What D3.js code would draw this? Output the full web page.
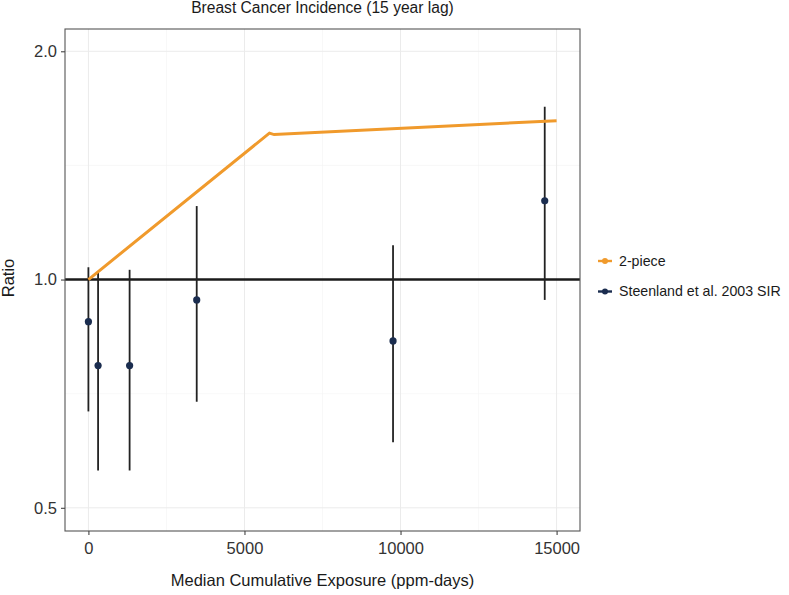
<!DOCTYPE html>
<html lang="en">
  <head>
    <meta charset="UTF-8" />
    <title>Breast Cancer Incidence</title>
    <script src="https://d3js.org/d3.v7.min.js"></script>
    <style>
      body { margin: 0; background: #fff; }
      text { font-family: "Liberation Sans", Arial, sans-serif; }
    </style>
  </head>
  <body>
    <script>
      // data
      var exposure = [0, 310, 1320, 3470, 9760, 14620];
      var sir = [0.88, 0.77, 0.77, 0.94, 0.83, 1.27];
      var sirLow = [0.67, 0.56, 0.56, 0.69, 0.61, 0.94];
      var sirHigh = [1.038, 1.02, 1.03, 1.25, 1.11, 1.69];

      var pieceX = [0, 5800, 5950, 15000];
      var pieceY = [1.0, 1.56, 1.553, 1.62];

      var xTicks = [0, 5000, 10000, 15000];
      var xMinor = [2500, 7500, 12500];
      var yTicks = [0.5, 1.0, 2.0];
      var yMinor = [Math.SQRT1_2, Math.SQRT2];

      var legendLabels = ["2-piece", "Steenland et al. 2003 SIR"];
      var colOrange = "#f09a2c";
      var colNavy = "#1b2d4f";

      var w = 789, h = 595;
      // panel edges (note: "top" is taken by window.top)
      var pL = 65, pR = 580, pT = 29, pB = 531;

      var x = d3.scaleLinear().domain([-750, 15750]).range([pL, pR]);
      var y = d3.scaleLog().domain([0.466, 2.14]).range([pB, pT]);

      var svg = d3.select("body").append("svg")
        .attr("width", w)
        .attr("height", h);

      // grid
      var grid = svg.append("g");
      grid.selectAll(".vmin").data(xMinor).enter().append("line")
        .attr("x1", d => x(d)).attr("x2", d => x(d))
        .attr("y1", pT).attr("y2", pB)
        .attr("stroke", "#f3f3f3").attr("stroke-width", 0.6);
      grid.selectAll(".hmin").data(yMinor).enter().append("line")
        .attr("y1", d => y(d)).attr("y2", d => y(d))
        .attr("x1", pL).attr("x2", pR)
        .attr("stroke", "#f3f3f3").attr("stroke-width", 0.6);
      grid.selectAll(".vmaj").data(xTicks).enter().append("line")
        .attr("x1", d => x(d)).attr("x2", d => x(d))
        .attr("y1", pT).attr("y2", pB)
        .attr("stroke", "#ebebeb").attr("stroke-width", 1);
      grid.selectAll(".hmaj").data(yTicks).enter().append("line")
        .attr("y1", d => y(d)).attr("y2", d => y(d))
        .attr("x1", pL).attr("x2", pR)
        .attr("stroke", "#ebebeb").attr("stroke-width", 1);

      // reference line at 1
      svg.append("line")
        .attr("x1", pL).attr("x2", pR)
        .attr("y1", y(1)).attr("y2", y(1))
        .attr("stroke", "#1a1a1a").attr("stroke-width", 2.6);

      // error bars
      svg.selectAll(".err").data(exposure).enter().append("line")
        .attr("x1", d => x(d)).attr("x2", d => x(d))
        .attr("y1", (d, i) => y(sirLow[i]))
        .attr("y2", (d, i) => y(sirHigh[i]))
        .attr("stroke", "#222").attr("stroke-width", 1.8);

      // 2-piece line
      var line = d3.line().x(d => x(d[0])).y(d => y(d[1]));
      svg.append("path")
        .datum(pieceX.map((d, i) => [d, pieceY[i]]))
        .attr("d", line)
        .attr("fill", "none")
        .attr("stroke", colOrange)
        .attr("stroke-width", 3);

      // points
      svg.selectAll(".pt").data(exposure).enter().append("circle")
        .attr("cx", d => x(d))
        .attr("cy", (d, i) => y(sir[i]))
        .attr("r", 3.6)
        .attr("fill", colNavy);

      // panel border
      svg.append("rect")
        .attr("x", pL).attr("y", pT)
        .attr("width", pR - pL).attr("height", pB - pT)
        .attr("fill", "none").attr("stroke", "#555").attr("stroke-width", 1.1);

      // axes
      var xAxis = svg.append("g")
        .attr("transform", "translate(0," + pB + ")")
        .call(d3.axisBottom(x).tickValues(xTicks).tickFormat(d3.format("d")).tickSize(4).tickPadding(7));
      var yAxis = svg.append("g")
        .attr("transform", "translate(" + pL + ",0)")
        .call(d3.axisLeft(y).tickValues(yTicks).tickFormat(d3.format(".1f")).tickSize(4).tickPadding(4));
      [xAxis, yAxis].forEach(function (a) {
        a.select(".domain").remove();
        a.selectAll(".tick line").attr("stroke", "#444").attr("stroke-width", 1.1);
        a.selectAll(".tick text").attr("fill", "#333").style("font-size", "16.5px");
      });

      // titles
      svg.append("text")
        .attr("x", (pL + pR) / 2).attr("y", 13)
        .attr("text-anchor", "middle")
        .attr("fill", "#1a1a1a")
        .style("font-size", "15.6px")
        .text("Breast Cancer Incidence (15 year lag)");
      svg.append("text")
        .attr("x", (pL + pR) / 2).attr("y", 586)
        .attr("text-anchor", "middle")
        .attr("fill", "#1a1a1a")
        .style("font-size", "16.5px")
        .text("Median Cumulative Exposure (ppm-days)");
      svg.append("text")
        .attr("transform", "translate(14," + 278 + ") rotate(-90)")
        .attr("text-anchor", "middle")
        .attr("fill", "#1a1a1a")
        .style("font-size", "16.5px")
        .text("Ratio");

      // legend
      var legColors = [colOrange, colNavy];
      var leg = svg.append("g").attr("transform", "translate(598,261)");
      var items = leg.selectAll("g").data(legendLabels).enter().append("g")
        .attr("transform", (d, i) => "translate(0," + i * 30.5 + ")");
      items.append("line")
        .attr("x1", 0).attr("x2", 14).attr("y1", 0).attr("y2", 0)
        .attr("stroke", (d, i) => legColors[i]).attr("stroke-width", 2.4);
      items.append("circle")
        .attr("cx", 7).attr("cy", 0).attr("r", 3)
        .attr("fill", (d, i) => legColors[i]);
      items.append("text")
        .attr("x", 21).attr("y", 0).attr("dy", "0.35em")
        .attr("fill", "#1a1a1a")
        .style("font-size", "14.2px")
        .text(d => d);
    </script>
  </body>
</html>
